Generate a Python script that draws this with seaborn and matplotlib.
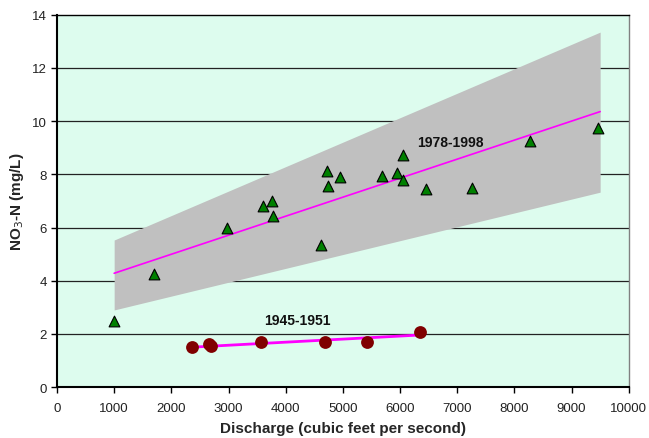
import pandas as pd
import matplotlib.pyplot as plt
import seaborn as sns

# 1978-1998 samples (triangles)
late_q = [1000, 1700, 2980, 3610, 3765, 3780, 4620, 4730, 4745, 4945,
          5680, 5950, 6060, 6060, 6460, 7255, 8265, 9455]
late_no3 = [2.49, 4.25, 5.97, 6.81, 7.0, 6.44, 5.34, 8.13, 7.56, 7.91,
            7.95, 8.04, 8.73, 7.8, 7.45, 7.49, 9.27, 9.74]

# 1945-1951 samples (circles)
early_q = [2360, 2650, 2690, 3575, 4680, 5425, 6355]
early_no3 = [1.52, 1.62, 1.53, 1.71, 1.71, 1.69, 2.08]

# fitted lines and band
late_fit_q = [1000, 9500]
late_fit_no3 = [4.28, 10.36]
band_upper = [5.53, 13.35]
band_lower = [2.9, 7.33]
early_fit_q = [2360, 6360]
early_fit_no3 = [1.5, 1.96]

late = pd.DataFrame({"q": late_q, "no3": late_no3})
early = pd.DataFrame({"q": early_q, "no3": early_no3})

sns.set_style("white")
plt.rcParams['font.family'] = ['Liberation Sans', 'DejaVu Sans']

fig = plt.figure(figsize=(6.49, 4.39), dpi=100)
ax = fig.add_axes([0.0878, 0.116, 0.881, 0.848])
ax.set_facecolor('#DDFCEE')

ax.fill_between(late_fit_q, band_lower, band_upper, color='#C0C0C0', lw=0, zorder=1)
for y in range(2, 14, 2):
    ax.axhline(y, color='#222222', lw=0.9, zorder=0.5)

sns.lineplot(x=late_fit_q, y=late_fit_no3, color='#FF00FF', lw=1.2, ax=ax, zorder=2)
sns.lineplot(x=early_fit_q, y=early_fit_no3, color='#FF00FF', lw=2, ax=ax, zorder=2)

sns.scatterplot(data=late, x='q', y='no3', marker='^', s=60, color='#008000',
                edgecolor='black', linewidth=0.8, ax=ax, zorder=3)
sns.scatterplot(data=early, x='q', y='no3', marker='o', s=85, color='#800000',
                edgecolor='#800000', linewidth=0, ax=ax, zorder=3)

ax.text(6880, 9.2, '1978-1998', fontsize=10, fontweight='bold', ha='center', va='center', color='#111111')
ax.text(4200, 2.52, '1945-1951', fontsize=10, fontweight='bold', ha='center', va='center', color='#111111')

ax.set_xlim(0, 10000)
ax.set_ylim(0, 14)
ax.set_xticks(range(0, 10001, 1000))
ax.set_yticks(range(0, 15, 2))
ax.tick_params(axis='both', labelsize=9.5, length=4, width=1, direction='out',
               bottom=True, left=True, colors='black', labelcolor='#222222')
ax.tick_params(axis='x', pad=7)
ax.set_xlabel('Discharge (cubic feet per second)', fontsize=11, fontweight='bold', labelpad=5)
ax.set_ylabel(r'NO$_3$-N (mg/L)', fontsize=11, fontweight='bold', labelpad=4)

for side in ['left', 'bottom']:
    ax.spines[side].set_color('black')
    ax.spines[side].set_linewidth(1.5)
ax.spines['top'].set_color('black')
ax.spines['top'].set_linewidth(1)
ax.spines['right'].set_color('#808080')
ax.spines['right'].set_linewidth(1)

fig.savefig('out.png', dpi=100)
